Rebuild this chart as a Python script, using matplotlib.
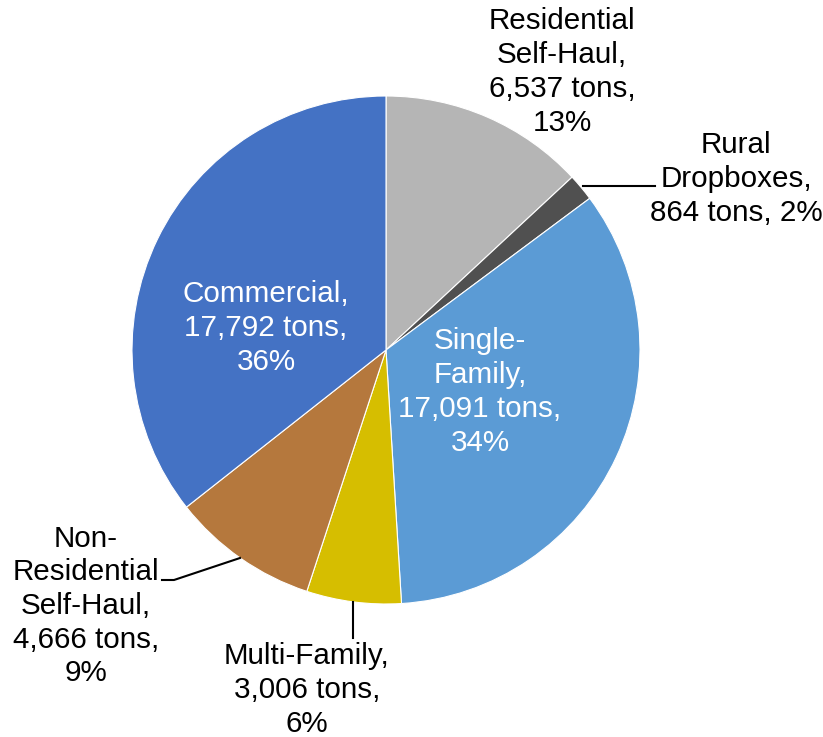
import matplotlib.pyplot as plt

plt.rcParams["font.family"] = ["Liberation Sans", "DejaVu Sans"]

# Tonnage by collection sector, clockwise from 12 o'clock
sectors = [
    "Residential\nSelf-Haul",
    "Rural\nDropboxes",
    "Single-\nFamily",
    "Multi-Family",
    "Non-\nResidential\nSelf-Haul",
    "Commercial",
]
tons = [6537, 864, 17091, 3006, 4666, 17792]
colors = ["#B5B5B5", "#505050", "#5B9BD5", "#D6BE00", "#B5783D", "#4472C4"]

W, H = 823, 737


def main():
    fig = plt.figure(figsize=(W / 100, H / 100), dpi=100)
    ax = fig.add_axes([0, 0, 1, 1])

    cx, cy, r = 386, H - 350, 254
    ax.pie(
        tons,
        colors=colors,
        startangle=90,
        counterclock=False,
        center=(cx, cy),
        radius=r,
        wedgeprops=dict(edgecolor="white", linewidth=0.8),
        frame=True,
    )
    ax.set_xlim(0, W)
    ax.set_ylim(0, H)
    ax.set_aspect("equal")
    ax.axis("off")

    total = sum(tons)

    def label(i):
        pct = round(100 * tons[i] / total)
        return f"{sectors[i]},\n{tons[i]:,} tons,\n{pct}%"

    kw = dict(ha="center", va="center", fontsize=21.3, linespacing=1.26)

    ax.text(562, H - 72, label(0), color="black", **kw)
    pct1 = round(100 * tons[1] / total)
    ax.text(736, H - 179, f"{sectors[1]},\n{tons[1]:,} tons, {pct1}%",
            color="black", **kw)
    ax.text(480, H - 392, label(2), color="white", **kw)
    ax.text(307, H - 690, label(3), color="black", **kw)
    ax.text(86, H - 606, label(4), color="black", **kw)
    ax.text(266, H - 328, label(5), color="white", **kw)

    # leader lines
    lw = 1.5
    ax.plot([583, 655], [H - 186, H - 186], color="black", lw=lw)
    ax.plot([240, 174, 162], [H - 558, H - 580, H - 580], color="black", lw=lw)
    ax.plot([353, 353], [H - 602, H - 638], color="black", lw=lw)

    fig.savefig("out.png", dpi=100)
    plt.close(fig)


if __name__ == "__main__":
    main()
